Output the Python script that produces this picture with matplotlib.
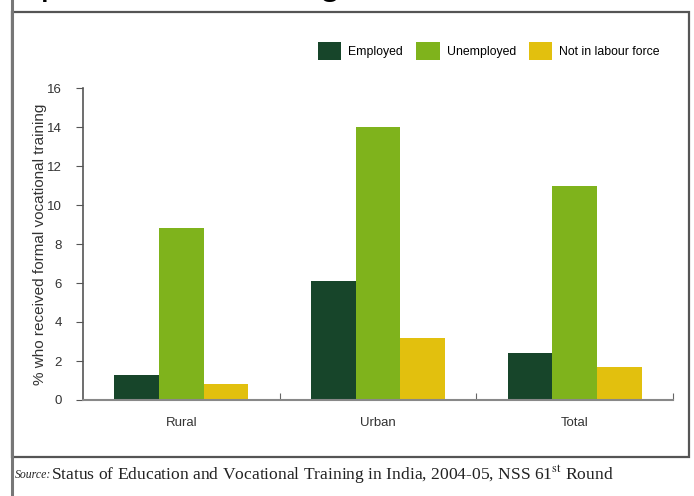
import matplotlib
matplotlib.use("Agg")
import matplotlib.pyplot as plt
import numpy as np
from matplotlib.patches import Rectangle
from matplotlib.lines import Line2D

plt.rcParams['mathtext.fontset'] = 'stix'

categories = ["Rural", "Urban", "Total"]
series_names = ["Employed", "Unemployed", "Not in labour force"]
employed = [1.3, 6.1, 2.4]
unemployed = [8.8, 14.0, 11.0]
not_in_lf = [0.8, 3.2, 1.7]
y_ticks = [0, 2, 4, 6, 8, 10, 12, 14, 16]
y_label = "% who received formal vocational training"
source_label = "Source:"
source_text = "Status of Education and Vocational Training in India, 2004-05, NSS 61$^{\\mathrm{st}}$ Round"
top_text = "Exposure to training"

colors = ["#17452a", "#7fb31c", "#e2c00e"]
sans = ["Liberation Sans", "DejaVu Sans"]

W, H = 694, 496
fig = plt.figure(figsize=(W / 100, H / 100), dpi=100)
fig.patch.set_facecolor("white")

def fx(px):
    return px / W

def fy(py):
    return 1 - py / H

# outer frame
fig.patches.append(Rectangle((fx(12), fy(457)), fx(689) - fx(12), fy(12) - fy(457),
                             transform=fig.transFigure, fill=False,
                             edgecolor="#555555", linewidth=1.6, zorder=0))
fig.add_artist(Line2D([fx(12), fx(12)], [0, 1], transform=fig.transFigure,
                      color="#777777", linewidth=2.2))

# top text, cut off by the upper edge as in the reference
fig.text(fx(-5), fy(-6), top_text, fontsize=28, family=sans,
         ha="left", va="baseline", color="black")

ax = fig.add_axes([fx(83), fy(400), fx(673) - fx(83), fy(88) - fy(400)])
x = np.arange(len(categories))
bw = 0.227
series = [employed, unemployed, not_in_lf]
for i, (vals, name, c) in enumerate(zip(series, series_names, colors)):
    ax.bar(x + (i - 1) * bw, vals, width=bw, color=c, label=name, zorder=2)

ax.set_xlim(-0.5, 2.5)
ax.set_ylim(0, 16)
ax.set_yticks(y_ticks)
ax.set_yticklabels([str(t) for t in y_ticks], family=sans, fontsize=9.5, color="#333333")
ax.set_xticks([0.5, 1.5, 2.5])
ax.set_xticklabels([])
ax.set_xticks(x, minor=True)
ax.set_xticklabels(categories, minor=True, family=sans, fontsize=9.5, color="#333333")
ax.tick_params(axis="x", which="minor", length=0, pad=12)
ax.tick_params(axis="x", which="major", length=5, direction="in", color="#666666")
ax.tick_params(axis="y", length=5, direction="out", color="#555555", pad=10)
for s in ["top", "right"]:
    ax.spines[s].set_visible(False)
ax.spines["left"].set_color("#555555")
ax.spines["left"].set_linewidth(1.2)
ax.spines["bottom"].set_color("#888888")
ax.spines["bottom"].set_linewidth(1.5)
ax.set_facecolor("none")
ax.set_ylabel(y_label, family=sans, fontsize=11, color="#333333", labelpad=0)

handles, labels = ax.get_legend_handles_labels()
fig.legend(handles, labels, loc="center left", bbox_to_anchor=(fx(318), fy(51)),
           ncol=3, frameon=False, prop={"family": sans, "size": 8.8},
           handlelength=1.9, handleheight=1.9, handletextpad=0.57,
           columnspacing=1.1, borderpad=0, borderaxespad=0)

fig.text(fx(15), fy(475), source_label, fontsize=8.5, family="Liberation Serif",
         style="italic", ha="left", va="center", color="#222222")
fig.text(fx(51), fy(475), source_text, fontsize=12.6, family="Liberation Serif",
         ha="left", va="center", color="#222222")

fig.savefig("out.png", dpi=100)
